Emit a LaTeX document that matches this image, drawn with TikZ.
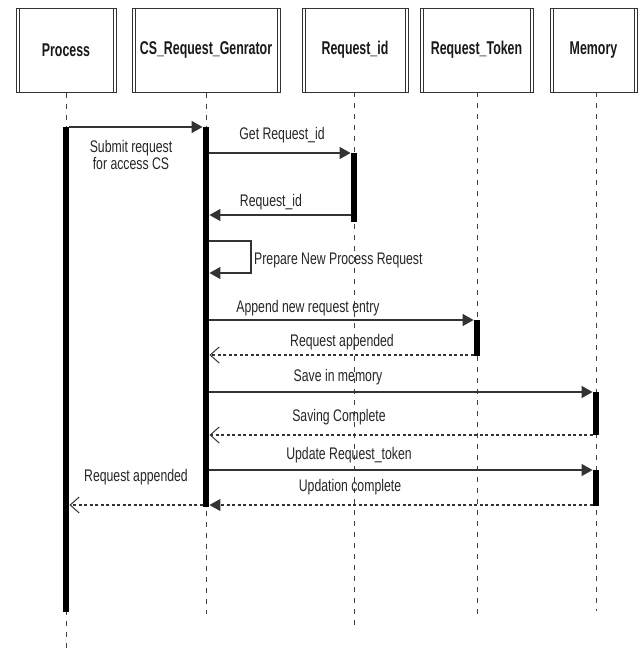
\documentclass[tikz,border=0pt]{standalone}
\usepackage{fontspec}
\setmainfont{Liberation Sans}
\newfontfamily\msgfont[FakeStretch=0.73]{Liberation Sans}
\newfontfamily\hdfont[FakeStretch=0.67]{Liberation Sans}
\usetikzlibrary{arrows.meta}
\begin{document}
\begin{tikzpicture}[x=1pt,y=-1pt,
  objbox/.style={draw=black!80,line width=1pt,inner sep=0pt,minimum height=84pt,font=\hdfont\bfseries\fontsize{18.5}{20}\selectfont,text=black!90},
  lifeline/.style={draw=black!75,line width=0.9pt,dash pattern=on 5pt off 6pt},
  actbar/.style={fill=black,draw=none,inner sep=0pt,minimum width=6.5pt},
  msg/.style={draw=black!80,line width=1.4pt,-{Triangle[length=11pt,width=12pt]}},
  ret/.style={draw=black!80,line width=1.1pt,dash pattern=on 3pt off 2.5pt,-{Straight Barb[length=9pt,width=16pt,line width=1pt]}},
  retf/.style={draw=black!80,line width=1.1pt,dash pattern=on 3pt off 2.5pt,-{Triangle[length=11pt,width=12pt]}},
  lbl/.style={font=\msgfont\fontsize{16.8}{17}\selectfont,text=black!85,inner sep=0pt,align=center}]
\useasboundingbox (0,0) rectangle (639,654);
% object boxes
\node[objbox,minimum width=100pt] (P) at (66,50) {Process};
\node[objbox,minimum width=148pt] (C) at (206,50) {CS\_Request\_Genrator};
\node[objbox,minimum width=106pt] (R) at (355,50) {Request\_id};
\node[objbox,minimum width=113pt] (T) at (476.5,50) {Request\_Token};
\node[objbox,minimum width=87pt] (M) at (593.5,50) {Memory};
\foreach \n in {P,C,R,T,M}{
  \draw[draw=black!80,line width=0.9pt] ([xshift=3.5pt]\n.north west) -- ([xshift=3.5pt]\n.south west);
  \draw[draw=black!80,line width=0.9pt] ([xshift=-3.5pt]\n.north east) -- ([xshift=-3.5pt]\n.south east);
}
% lifeline ends
\coordinate (Pe) at (66,654);
\coordinate (Ce) at (206,614);
\coordinate (Re) at (354,628);
\coordinate (Te) at (477,618);
\coordinate (Me) at (596,611);
\draw[lifeline] (P.south) -- (Pe);
\draw[lifeline] (C.south) -- (Ce);
\draw[lifeline] (354,92) -- (Re);
\draw[lifeline] (477,92) -- (Te);
\draw[lifeline] (596,92) -- (Me);
% activation bars
\node[actbar,minimum height=485pt] (aP) at (66,369.5) {};
\node[actbar,minimum height=380pt] (aC) at (206,317) {};
\node[actbar,minimum height=69pt] (aR) at (354,187.5) {};
\node[actbar,minimum height=36pt] (aT) at (477,338) {};
\node[actbar,minimum height=43pt] (aM1) at (596,413.5) {};
\node[actbar,minimum height=36pt] (aM2) at (596,488) {};
% message rows
\coordinate (y1) at (0,127);
\coordinate (y2) at (0,153);
\coordinate (y3) at (0,215);
\coordinate (y4a) at (0,241);
\coordinate (y4b) at (0,273);
\coordinate (sm) at (251,257);
\coordinate (y5) at (0,320);
\coordinate (y6) at (0,355);
\coordinate (y7) at (0,392);
\coordinate (y8) at (0,435);
\coordinate (y9) at (0,470);
\coordinate (y10) at (0,505);
% messages
\draw[msg] (aP.east |- y1) -- (aC.west |- y1);
\draw[msg] (aC.east |- y2) -- (aR.west |- y2);
\draw[msg] (aR.west |- y3) -- (aC.east |- y3);
\draw[msg] (aC.east |- y4a) -| (sm) |- (aC.east |- y4b);
\draw[msg] (aC.east |- y5) -- (aT.west |- y5);
\draw[ret] (aT.west |- y6) -- (aC.east |- y6);
\draw[msg] (aC.east |- y7) -- (aM1.west |- y7);
\draw[ret] (aM1.west |- y8) -- (aC.east |- y8);
\draw[msg] (aC.east |- y9) -- (aM2.west |- y9);
\draw[retf] (aM2.west |- y10) -- (aC.east |- y10);
\draw[ret] (aC.west |- y10) -- (aP.east |- y10);
% labels
\node[lbl] (l1) at (131,155) {Submit request\\for access CS};
\node[lbl] (l2) at (282,135) {Get Request\_id};
\node[lbl] (l3) at (271,202) {Request\_id};
\node[lbl,anchor=west] (l4) at (254,260) {Prepare New Process Request};
\node[lbl] (l5) at (308,308) {Append new request entry};
\node[lbl] (l6) at (342,342) {Request appended};
\node[lbl] (l7) at (338,377) {Save in memory};
\node[lbl] (l8) at (339,417) {Saving Complete};
\node[lbl] (l9) at (349,455) {Update Request\_token};
\node[lbl] (l10) at (350,487) {Updation complete};
\node[lbl] (l11) at (136,477) {Request appended};
\end{tikzpicture}
\end{document}
